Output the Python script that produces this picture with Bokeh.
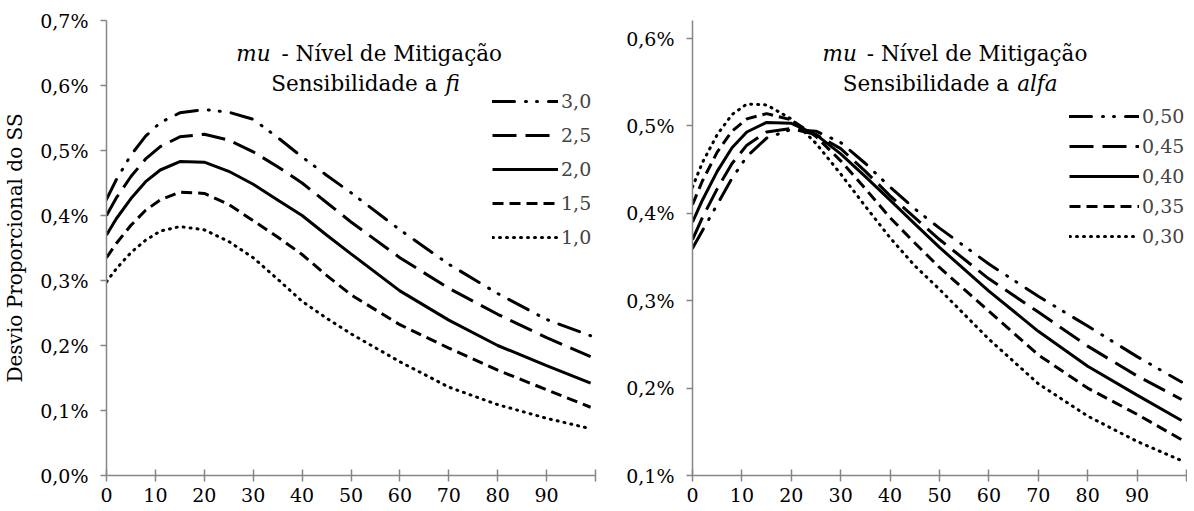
from bokeh.plotting import figure
from bokeh.layouts import row
from bokeh.models import FixedTicker, Legend, LegendItem, Label, Range1d
from bokeh.embed import file_html
from bokeh.resources import INLINE

# ---------------- data ----------------
X = [0, 2, 5, 8, 11, 15, 20, 25, 30, 35, 40, 45, 50, 60, 70, 80, 90, 99]

FI_LABELS = ["3,0", "2,5", "2,0", "1,5", "1,0"]
fi_30 = [.425, .455, .493, .522, .543, .558, .563, .559, .548, .520, .490, .462, .435, .378, .325, .280, .240, .215]
fi_25 = [.400, .427, .460, .487, .506, .521, .525, .516, .498, .475, .450, .420, .390, .335, .288, .248, .212, .183]
fi_20 = [.370, .395, .426, .452, .470, .483, .482, .468, .448, .424, .400, .370, .341, .284, .239, .200, .169, .142]
fi_15 = [.335, .357, .385, .408, .424, .436, .434, .417, .392, .367, .340, .308, .278, .232, .196, .162, .132, .105]
fi_10 = [.298, .318, .343, .362, .376, .383, .378, .360, .335, .302, .268, .242, .218, .175, .136, .109, .088, .072]

ALFA_LABELS = ["0,50", "0,45", "0,40", "0,35", "0,30"]
alfa_50 = [.360, .380, .410, .440, .465, .486, .496, .494, .481, .457, .430, .405, .383, .342, .305, .271, .236, .207]
alfa_45 = [.370, .395, .428, .457, .478, .493, .497, .490, .474, .448, .420, .395, .370, .325, .287, .248, .214, .187]
alfa_40 = [.390, .415, .448, .475, .493, .504, .503, .490, .468, .442, .415, .388, .361, .311, .265, .225, .192, .163]
alfa_35 = [.410, .437, .470, .494, .508, .514, .507, .488, .460, .428, .395, .366, .338, .288, .238, .200, .170, .141]
alfa_30 = [.430, .458, .490, .513, .525, .524, .508, .480, .445, .408, .372, .340, .313, .256, .205, .168, .139, .117]

X_TICKS = [0, 10, 20, 30, 40, 50, 60, 70, 80, 90, 100]
X_TICK_LABELS = ["0", "10", "20", "30", "40", "50", "60", "70", "80", "90", ""]
Y1_TICKS = [0.0, 0.1, 0.2, 0.3, 0.4, 0.5, 0.6, 0.7]
Y1_TICK_LABELS = ["0,0%", "0,1%", "0,2%", "0,3%", "0,4%", "0,5%", "0,6%", "0,7%"]
Y2_TICKS = [0.1, 0.2, 0.3, 0.4, 0.5, 0.6]
Y2_TICK_LABELS = ["0,1%", "0,2%", "0,3%", "0,4%", "0,5%", "0,6%"]

# ---------------- style ----------------
FONT = "DejaVu Serif"
AXIS_GRAY = "#868686"
STYLES = [
    dict(line_dash="22 11 1 10 1 11", line_cap="round"),
    dict(line_dash="24 9", line_cap="butt"),
    dict(line_dash="solid", line_cap="butt"),
    dict(line_dash="11 6", line_cap="butt"),
    dict(line_dash="1 6", line_cap="round"),
]


def make_fig(width, border_left, border_right, y_range, y_ticks, y_labels):
    p = figure(width=width, height=508, x_range=Range1d(0, 100), y_range=y_range,
               output_backend="svg", toolbar_location=None,
               min_border_left=border_left, min_border_right=border_right,
               min_border_top=20, min_border_bottom=33)
    p.outline_line_color = None
    p.grid.visible = False
    p.background_fill_color = "white"
    p.border_fill_color = "white"
    xa = p.xaxis[0]
    xa.ticker = FixedTicker(ticks=X_TICKS)
    xa.major_label_overrides = dict(zip(X_TICKS, X_TICK_LABELS))
    xa.major_tick_in = 6
    xa.major_tick_out = 6
    xa.major_label_standoff = 6
    ya = p.yaxis[0]
    ya.ticker = FixedTicker(ticks=y_ticks)
    ya.major_label_overrides = dict(zip(y_ticks, y_labels))
    ya.major_tick_in = 0
    ya.major_tick_out = 6
    ya.major_label_standoff = 12
    for ax in (xa, ya):
        ax.axis_line_color = AXIS_GRAY
        ax.axis_line_width = 1.5
        ax.major_tick_line_color = AXIS_GRAY
        ax.major_tick_line_width = 1.5
        ax.minor_tick_line_color = None
        ax.major_label_text_font = FONT
        ax.major_label_text_font_size = "19px"
        ax.major_label_text_color = "black"
    return p


def add_series(p, series, labels, loc, spacing, glyph_w):
    items = []
    for ys, lab, st in zip(series, labels, STYLES):
        r = p.line(X, ys, line_color="black", line_width=3, **st)
        items.append(LegendItem(label=lab, renderers=[r]))
    leg = Legend(items=items, location=loc, padding=0, margin=0, spacing=spacing,
                 glyph_width=glyph_w, glyph_height=22, label_height=22, label_standoff=3,
                 label_text_font=FONT, label_text_font_size="19px",
                 border_line_color=None, background_fill_alpha=0)
    p.add_layout(leg)


def add_title(p, pieces):
    for (txt, x, y, align, italic) in pieces:
        p.add_layout(Label(x=x, y=y, text=txt, text_align=align, text_baseline="alphabetic",
                           text_font=FONT, text_font_size="21.5px",
                           text_font_style="italic" if italic else "normal",
                           text_color="black"))


# left chart: frame px 106..595 (x), 20..475 (y)
p1 = make_fig(602, 106, 7, Range1d(0.0, 0.7), Y1_TICKS, Y1_TICK_LABELS)
p1.yaxis[0].axis_label = "Desvio Proporcional do SS"
p1.yaxis[0].axis_label_text_font = FONT
p1.yaxis[0].axis_label_text_font_size = "20px"
p1.yaxis[0].axis_label_text_font_style = "normal"
p1.yaxis[0].axis_label_text_color = "black"
p1.yaxis[0].axis_label_standoff = 10
add_series(p1, [fi_30, fi_25, fi_20, fi_15, fi_10], FI_LABELS, (386, 227), 12, 66)


def lx(px):
    return (px - 106) / 4.89


def ly(py):
    return (475 - py) / 650.0


add_title(p1, [
    ("mu", lx(270), ly(53), "right", True),
    ("- Nível de Mitigação", lx(281), ly(53), "left", False),
    ("Sensibilidade a", lx(437), ly(83), "right", False),
    ("fi", lx(445), ly(83), "left", True),
])

# right chart: frame px 692..1185 (x), 20..475 (y)
p2 = make_fig(585, 90, 1, Range1d(0.1, 0.6206), Y2_TICKS, Y2_TICK_LABELS)
add_series(p2, [alfa_50, alfa_45, alfa_40, alfa_35, alfa_30], ALFA_LABELS, (377, 228), 8, 70)


def rx(px):
    return (px - 692) / 4.93


def ry(py):
    return 0.1 + (475 - py) / 874.0


add_title(p2, [
    ("mu", rx(856), ry(53), "right", True),
    ("- Nível de Mitigação", rx(866), ry(53), "left", False),
    ("Sensibilidade a", rx(1008), ry(83), "right", False),
    ("alfa", rx(1016), ry(83), "left", True),
])

layout = row(p1, p2)
open("out.html", "w").write(file_html(layout, INLINE))
